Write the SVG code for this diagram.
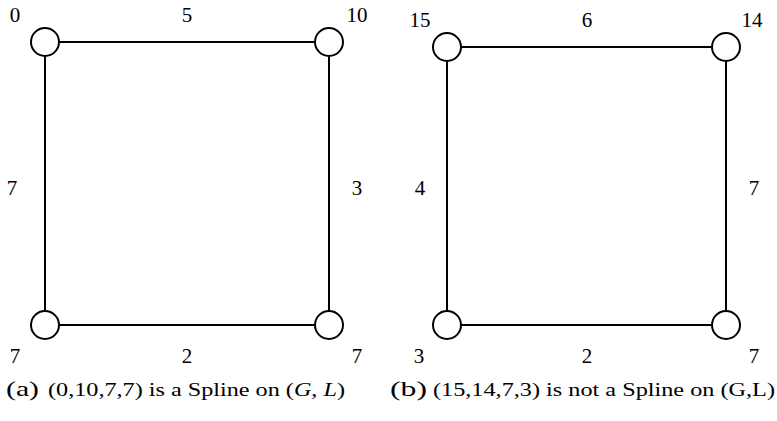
<svg xmlns="http://www.w3.org/2000/svg" width="777" height="421" viewBox="0 0 777 421">
<style>
.e{stroke:#000;stroke-width:2;fill:none}
.n{stroke:#000;stroke-width:2;fill:#fff}
text{font-family:"Liberation Serif","DejaVu Serif",serif;fill:#000}
.l{font-size:21px;text-anchor:middle}
.c{font-size:19px}
.cb{font-size:22px}
</style>
<rect width="777" height="421" fill="#fff"/>
<g id="connectors">
<line class="e" x1="45" y1="42" x2="329" y2="42"/>
<line class="e" x1="45" y1="42" x2="45" y2="325"/>
<line class="e" x1="329" y1="42" x2="329" y2="325"/>
<line class="e" x1="45" y1="325" x2="329" y2="325"/>
<line class="e" x1="447" y1="47" x2="726" y2="47"/>
<line class="e" x1="447" y1="47" x2="447" y2="325"/>
<line class="e" x1="726" y1="47" x2="726" y2="325"/>
<line class="e" x1="447" y1="325" x2="726" y2="325"/>
</g>
<g id="a0"><circle class="n" cx="45" cy="42" r="14"/></g>
<g id="a1"><circle class="n" cx="329" cy="42" r="14"/></g>
<g id="a2"><circle class="n" cx="45" cy="325" r="14"/></g>
<g id="a3"><circle class="n" cx="329" cy="325" r="14"/></g>
<g id="b0"><circle class="n" cx="447" cy="47" r="14"/></g>
<g id="b1"><circle class="n" cx="726" cy="47" r="14"/></g>
<g id="b2"><circle class="n" cx="447" cy="325" r="14"/></g>
<g id="b3"><circle class="n" cx="726" cy="325" r="14"/></g>
<g id="labels">
<text class="l" x="15" y="22">0</text>
<text class="l" x="187" y="22">5</text>
<text class="l" x="357" y="22">10</text>
<text class="l" x="12" y="195">7</text>
<text class="l" x="357" y="195">3</text>
<text class="l" x="15" y="363">7</text>
<text class="l" x="187" y="363">2</text>
<text class="l" x="357" y="363">7</text>
<text class="l" x="420" y="27">15</text>
<text class="l" x="587" y="27">6</text>
<text class="l" x="752" y="27">14</text>
<text class="l" x="420" y="195">4</text>
<text class="l" x="754" y="195">7</text>
<text class="l" x="419" y="363">3</text>
<text class="l" x="587" y="363">2</text>
<text class="l" x="754" y="363">7</text>
</g>
<g id="captions">
<text class="cb" x="6" y="396" textLength="33" lengthAdjust="spacingAndGlyphs">(a)</text>
<text class="c" x="48" y="396" textLength="297" lengthAdjust="spacingAndGlyphs">(0,10,7,7) is a Spline on (<tspan font-style="italic">G</tspan>, <tspan font-style="italic">L</tspan>)</text>
<text class="cb" x="390" y="396" textLength="37" lengthAdjust="spacingAndGlyphs">(b)</text>
<text class="c" x="433" y="396" textLength="342" lengthAdjust="spacingAndGlyphs">(15,14,7,3) is not a Spline on (G,L)</text>
</g>
</svg>
